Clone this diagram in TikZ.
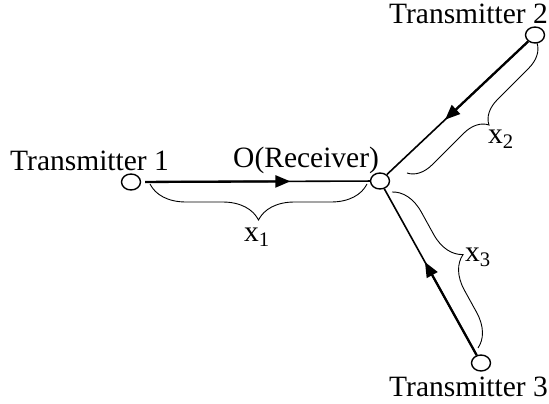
\documentclass[tikz,border=0pt]{standalone}
\usepackage{fontspec}
\setmainfont{Liberation Serif}
\usetikzlibrary{arrows.meta,decorations.pathreplacing,shapes.geometric,calc}
\begin{document}
\begin{tikzpicture}[x=1pt,y=-1pt,
  station/.style={ellipse,draw,line width=1.4pt,minimum width=19pt,minimum height=16pt,inner sep=0pt},
  lbl/.style={font=\fontsize{29.5}{32}\selectfont,inner sep=0pt},
  linkline/.style={line width=1.6pt},
  headline/.style={line width=2.3pt,-{Triangle[length=15pt,width=12pt]}},
  bracee/.style={decorate,decoration={brace,amplitude=#1},line width=0.9pt}
]
\useasboundingbox (0,0) rectangle (549,404);
\node[station] (t1) at (131,182) {};
\node[station] (rx) at (380,181) {};
\node[station] (t2) at (535,35) {};
\node[station] (t3) at (481,363) {};

\coordinate (a1) at ($(t1)!0.64!(rx)$);
\coordinate (a2) at ($(t2)!0.58!(rx)$);
\coordinate (a3) at ($(t3)!0.555!(rx)$);

\draw[linkline, shorten <=4pt] (t1) -- (rx);
\draw[headline, shorten <=4pt] (t1) -- (a1);
\draw[linkline] (t2) -- (rx);
\draw[headline] (t2) -- (a2);
\draw[linkline] (t3) -- (rx);
\draw[headline] (t3) -- (a3);

\draw[bracee=36pt] (367,184) -- (150,184);
\draw[bracee=24pt] (537,43) -- (407,173);
\draw[bracee=32pt] (392,192) -- (478,348);

\node[lbl, anchor=base west] (l1) at (10,170) {Transmitter 1};
\node[lbl, anchor=base west] (lr) at (233,167) {O(Receiver)};
\node[lbl, anchor=base east] (l2) at (548,24) {Transmitter 2};
\node[lbl, anchor=base west] (l3) at (389,396) {Transmitter 3};
\node[lbl] (x1) at (257,237) {x\textsubscript{1}};
\node[lbl] (x2) at (501,139) {x\textsubscript{2}};
\node[lbl] (x3) at (478,257) {x\textsubscript{3}};
\end{tikzpicture}
\end{document}
